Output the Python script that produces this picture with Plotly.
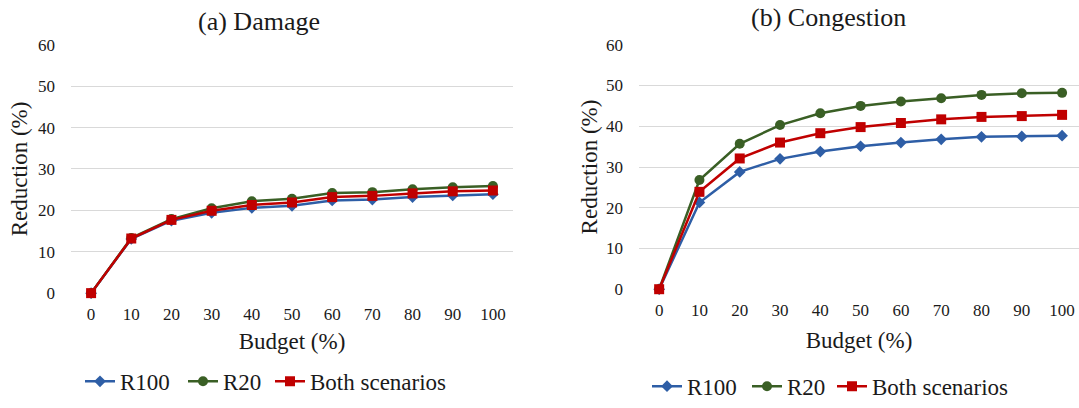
import plotly.graph_objects as go

budget = ["0", "10", "20", "30", "40", "50", "60", "70", "80", "90", "100"]

damage_r100 = [0, 13.1, 17.5, 19.4, 20.6, 21.1, 22.4, 22.6, 23.2, 23.6, 23.9]
damage_r20 = [0, 13.3, 17.9, 20.5, 22.2, 22.8, 24.2, 24.4, 25.1, 25.6, 25.9]
damage_both = [0, 13.2, 17.7, 19.9, 21.3, 21.9, 23.2, 23.5, 24.1, 24.6, 24.8]

cong_r100 = [0, 21.3, 28.8, 32.0, 33.8, 35.1, 36.0, 36.8, 37.4, 37.5, 37.7]
cong_r20 = [0, 26.8, 35.7, 40.3, 43.2, 45.0, 46.1, 46.9, 47.7, 48.1, 48.2]
cong_both = [0, 23.9, 32.1, 36.0, 38.3, 39.8, 40.8, 41.7, 42.3, 42.5, 42.8]

series_names = ["R100", "R20", "Both scenarios"]
colors = ["#2E5EA6", "#3A5F25", "#C00000"]
symbols = ["diamond", "circle", "square"]
sizes = [9, 10, 10]

FONT = "Liberation Serif, Times New Roman, serif"
TXT = "#1a1a1a"
W, H = 1079, 408

def px_x(p):
    return p / W

def px_y(p):
    return 1 - p / H

fig = go.Figure()

left_leg_x = [80, 183, 270]
right_leg_x = [647, 747, 832]

for i, (name, vals) in enumerate(zip(series_names, [damage_r100, damage_r20, damage_both])):
    fig.add_trace(go.Scatter(
        x=budget, y=vals, name=name, mode="lines+markers",
        line=dict(color=colors[i], width=2.5),
        marker=dict(symbol=symbols[i], size=sizes[i], color=colors[i]),
        xaxis="x", yaxis="y", legend="legend" if i == 0 else f"legend{i + 1}",
        cliponaxis=False,
    ))
for i, (name, vals) in enumerate(zip(series_names, [cong_r100, cong_r20, cong_both])):
    fig.add_trace(go.Scatter(
        x=budget, y=vals, name=name, mode="lines+markers",
        line=dict(color=colors[i], width=2.5),
        marker=dict(symbol=symbols[i], size=sizes[i], color=colors[i]),
        xaxis="x2", yaxis="y2", legend=f"legend{i + 4}",
        cliponaxis=False,
    ))

title_font = dict(family=FONT, size=23, color=TXT)
xcommon = dict(type="category", showgrid=False, showline=False, automargin=False,
               ticks="", zeroline=False, ticklabelstandoff=9,
               tickfont=dict(family=FONT, size=17, color=TXT))
ycommon = dict(range=[0, 60], dtick=10, showgrid=True, gridcolor="#D9D9D9", gridwidth=1,
               zeroline=False, showline=False, ticks="", automargin=False,
               ticklabelstandoff=15,
               tickfont=dict(family=FONT, size=17, color=TXT))

legend_common = dict(orientation="h", font=dict(family=FONT, size=23, color=TXT),
                     itemwidth=30, bgcolor="rgba(0,0,0,0)", xanchor="left", yanchor="middle",
                     itemclick=False, itemdoubleclick=False)

legends = {}
for i, lx in enumerate(left_leg_x):
    key = "legend" if i == 0 else f"legend{i + 1}"
    legends[key] = dict(legend_common, x=px_x(lx), y=px_y(389))
for i, lx in enumerate(right_leg_x):
    legends[f"legend{i + 4}"] = dict(legend_common, x=px_x(lx), y=px_y(394))

fig.update_layout(
    width=W, height=H,
    margin=dict(l=0, r=0, t=0, b=0),
    paper_bgcolor="white", plot_bgcolor="white",
    font=dict(family=FONT, color=TXT),
    showlegend=True,
    xaxis=dict(xcommon, domain=[px_x(71), px_x(513)], anchor="y", range=[-0.5, 10.5],
               title=dict(text="Budget (%)", standoff=9, font=title_font)),
    yaxis=dict(ycommon, domain=[px_y(299), px_y(45.7)], anchor="x",
               title=dict(text="Reduction (%)", standoff=3, font=title_font)),
    xaxis2=dict(xcommon, domain=[px_x(639), px_x(1079)], anchor="y2", range=[-0.5, 10.42],
                title=dict(text="Budget (%)", standoff=12, font=title_font)),
    yaxis2=dict(ycommon, domain=[px_y(295), px_y(45.7)], anchor="x2",
                title=dict(text="Reduction (%)", standoff=1, font=title_font)),
    annotations=[
        dict(text="(a) Damage", x=px_x(259), y=px_y(22), xref="paper", yref="paper",
             showarrow=False, font=dict(family=FONT, size=26, color=TXT),
             xanchor="center", yanchor="middle"),
        dict(text="(b) Congestion", x=px_x(828), y=px_y(18), xref="paper", yref="paper",
             showarrow=False, font=dict(family=FONT, size=26, color=TXT),
             xanchor="center", yanchor="middle"),
    ],
    **legends,
)

fig.write_html("out.html", config={"displayModeBar": False},
               post_script="document.body.style.margin='0px';")
